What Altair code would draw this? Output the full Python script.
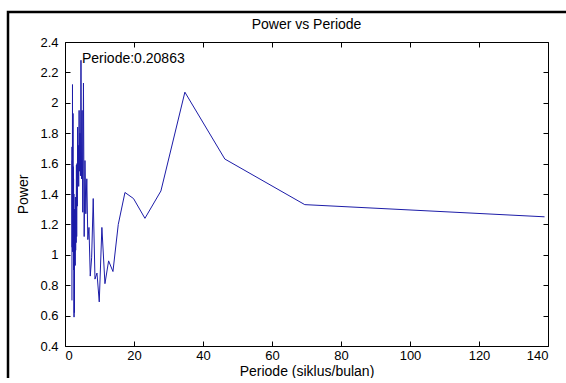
import altair as alt
import pandas as pd

# ---- data ----
periode = [2.01, 2.04, 2.07, 2.11, 2.14, 2.17, 2.21, 2.24, 2.28, 2.32,
           2.36, 2.40, 2.44, 2.48, 2.53, 2.57, 2.62, 2.67, 2.73, 2.78,
           2.84, 2.90, 2.96, 3.02, 3.09, 3.16, 3.23, 3.31, 3.39, 3.48,
           3.56, 3.66, 3.76, 3.86, 3.97, 4.09, 4.21, 4.34, 4.48, 4.63,
           4.79, 4.96, 5.15, 5.35, 5.56, 5.79, 6.04, 6.32, 6.62, 6.95,
           7.32, 7.72, 8.18, 8.69, 9.27, 9.93, 10.69, 11.58, 12.64, 13.90,
           15.44, 17.38, 19.86, 23.17, 27.80, 34.75, 46.33, 69.50, 139.00]
power = [0.70, 1.71, 1.05, 1.62, 1.20, 2.12, 1.02, 1.55, 1.15, 1.93,
         1.05, 1.58, 1.22, 1.50, 0.90, 1.40, 0.59, 1.25, 0.62, 1.30,
         1.02, 1.25, 0.93, 1.38, 1.03, 1.30, 1.08, 1.59, 1.12, 1.60,
         1.32, 1.84, 1.50, 1.72, 1.45, 1.95, 1.55, 1.80, 1.52, 2.28,
         1.50, 1.95, 1.28, 2.13, 1.12, 1.62, 1.27, 1.50, 1.10, 1.18,
         0.86, 0.98, 1.37, 0.84, 0.88, 0.69, 1.18, 0.81, 0.96, 0.89,
         1.20, 1.41, 1.37, 1.24, 1.42, 2.07, 1.63, 1.33, 1.25]

x_ticks = [0, 20, 40, 60, 80, 100, 120, 140]
y_ticks = [0.4, 0.6, 0.8, 1.0, 1.2, 1.4, 1.6, 1.8, 2.0, 2.2, 2.4]

chart_title = "Power vs Periode"
x_title = "Periode (siklus/bulan)"
y_title = "Power"
annot_x = [4.63]
annot_y = [2.28]
annot_text = ["Periode:0.20863"]

FONT = "Liberation Sans"
FS_LABEL = 13
FS_TEXT = 14
LINE_COLOR = "#1c1ca8"

df = pd.DataFrame({"periode": periode, "power": power})
adf = pd.DataFrame({"periode": annot_x, "power": annot_y, "label": annot_text})
one = pd.DataFrame({"a": [0]})

xscale = alt.Scale(domain=[0, 140], nice=False, zero=False)
yscale = alt.Scale(domain=[0.4, 2.4], nice=False, zero=False)

common_axis = dict(offset=-5, tickSize=5, domain=False, grid=False,
                   tickColor="black", labelColor="black", titleColor="black",
                   labelFont=FONT, titleFont=FONT, labelFontSize=FS_LABEL,
                   titleFontSize=FS_TEXT, titleFontWeight="normal")

x_axis = alt.Axis(values=x_ticks, title=x_title, orient="bottom", format="d",
                  labelPadding=3, titlePadding=2, **common_axis)
y_axis = alt.Axis(values=y_ticks, title=y_title, orient="left", format=".1~f",
                  labelPadding=7, titlePadding=9, **common_axis)
x_axis_top = alt.Axis(values=x_ticks, title=None, orient="top", labels=False,
                      offset=-5, tickSize=5, domain=False, grid=False,
                      tickColor="black")
y_axis_right = alt.Axis(values=y_ticks, title=None, orient="right", labels=False,
                        offset=-5, tickSize=5, domain=False, grid=False,
                        tickColor="black")

line = alt.Chart(df).mark_line(color=LINE_COLOR, strokeWidth=1).encode(
    x=alt.X("periode:Q", scale=xscale, axis=x_axis),
    y=alt.Y("power:Q", scale=yscale, axis=y_axis),
)

ghost = alt.Chart(df).mark_line(opacity=0).encode(
    x=alt.X("periode:Q", scale=xscale, axis=x_axis_top),
    y=alt.Y("power:Q", scale=yscale, axis=y_axis_right),
)

annot = alt.Chart(adf).mark_text(align="left", baseline="middle", dx=1, dy=-1,
                                 font=FONT, fontSize=FS_TEXT, color="black").encode(
    x=alt.X("periode:Q", scale=xscale, axis=None),
    y=alt.Y("power:Q", scale=yscale, axis=None),
    text="label:N",
)

# outer black frame of the original figure (only left and top edges show)
frame = alt.Chart(one).mark_rect(fill="transparent", stroke="black",
                                 strokeWidth=2.5).encode(
    x=alt.value(-57), x2=alt.value(530), y=alt.value(-30), y2=alt.value(380))

chart = alt.layer(line, ghost, annot, frame).resolve_axis(
    x="independent", y="independent"
).properties(
    width=483, height=304,
    title=alt.Title(chart_title, font=FONT, fontSize=FS_TEXT, fontWeight="normal",
                    color="black", anchor="middle", frame="group", offset=-21),
    autosize=alt.AutoSizeParams(type="none"),
    padding={"left": 65, "top": 42, "right": 18, "bottom": 32},
    background="white",
).configure_view(stroke="black", strokeWidth=1)

chart.save("out.html", embed_options={"renderer": "svg", "actions": False})
